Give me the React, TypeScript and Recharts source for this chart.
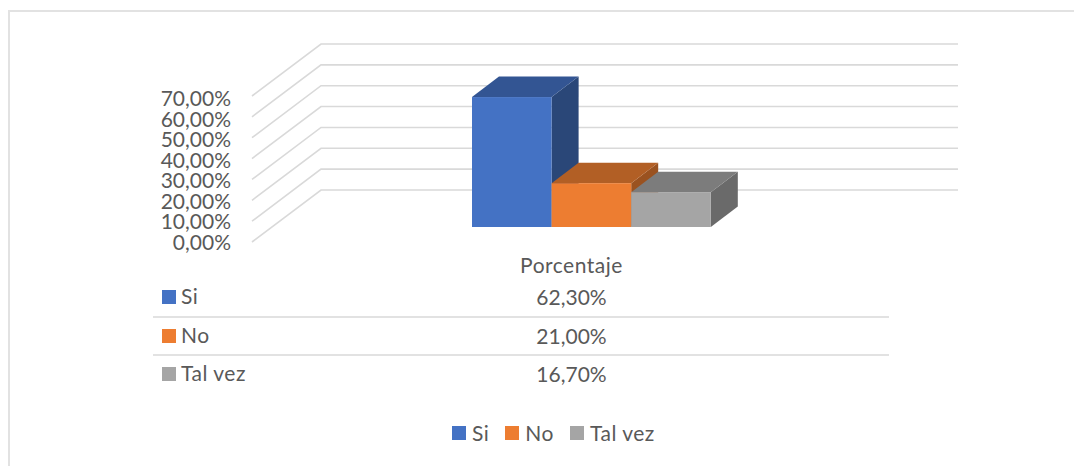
import { BarChart, Bar, XAxis, YAxis, CartesianGrid, Legend } from 'recharts';

const CATEGORIES = ['Porcentaje'];
const SERIES_NAMES = ['Si', 'No', 'Tal vez'];
const SERIES_VALUES = [62.3, 21.0, 16.7];
const Y_TICKS = [0, 10, 20, 30, 40, 50, 60, 70];

const FILLS = ['#4472C4', '#ED7D31', '#A5A5A5'];
const TOPS = ['#335593', '#B25F25', '#7C7C7C'];
const SIDES = ['#2A4778', '#9A5220', '#6A6A6A'];

const FONT = 'Lato, "Open Sans", sans-serif';
const TEXT = '#595959';
const LINE = '#D9D9D9';
const FONT_SIZE = 21;
const LABEL_SPACING = 0.5;

// 3D projection, relative to the plane the bars stand on
const DEPTH_X = 27;
const DEPTH_Y = 20.5;

const data = CATEGORIES.map((name) => {
  const row: Record<string, string | number> = { name };
  SERIES_NAMES.forEach((s, i) => {
    row[s] = SERIES_VALUES[i];
  });
  return row;
});

const fmt = (v: number) => v.toFixed(2).replace('.', ',') + '%';

function Box3D({ x, y, width, height, index }: any) {
  const i = index;
  const r = x + width;
  const b = y + height;
  return (
    <g>
      <polygon
        points={`${r},${y} ${r + DEPTH_X},${y - DEPTH_Y} ${r + DEPTH_X},${b - DEPTH_Y} ${r},${b}`}
        fill={SIDES[i]}
      />
      <polygon
        points={`${x},${y} ${x + DEPTH_X},${y - DEPTH_Y} ${r + DEPTH_X},${y - DEPTH_Y} ${r},${y}`}
        fill={TOPS[i]}
      />
      <rect x={x} y={y} width={width} height={height} fill={FILLS[i]} />
    </g>
  );
}

// floor diagonal + back wall line for each value tick
function GridLine({ x1, y1 }: any) {
  const frontX = x1 - 22;
  const backX = x1 + 47;
  const d = `M${frontX},${y1 + 15} L${backX},${y1 - 37} L${x1 + 684},${y1 - 37}`;
  return <path d={d} fill="none" stroke={LINE} strokeWidth={1.6} />;
}

// labels sit on the front edge, which is a bit shorter than the back wall
function ValueTick({ y, payload }: any) {
  return (
    <text x={231} y={y + 23 + payload.value * 0.029} textAnchor="end" fill={TEXT} fontFamily={FONT} fontSize={FONT_SIZE}>
      {fmt(payload.value)}
    </text>
  );
}

// category label plus the data table under the plot
function TableTick({ x, payload }: any) {
  const cx = x - 20;
  const rowY = [297, 336, 374];
  return (
    <g fontFamily={FONT} fontSize={FONT_SIZE} fill={TEXT}>
      <text x={cx} y={273} textAnchor="middle" letterSpacing={LABEL_SPACING}>
        {payload.value}
      </text>
      {SERIES_NAMES.map((s, i) => (
        <g key={s}>
          <rect x={162} y={rowY[i] - 7} width={14} height={14} fill={FILLS[i]} />
          <text x={181} y={rowY[i] + 7} letterSpacing={LABEL_SPACING}>
            {s}
          </text>
          <text x={cx} y={rowY[i] + 8} textAnchor="middle">
            {fmt(SERIES_VALUES[i])}
          </text>
        </g>
      ))}
      <line x1={153} x2={889} y1={317} y2={317} stroke={LINE} strokeWidth={1.6} />
      <line x1={153} x2={889} y1={355} y2={355} stroke={LINE} strokeWidth={1.6} />
    </g>
  );
}

function LegendRow({ payload }: any) {
  return (
    <div
      style={{
        display: 'flex',
        fontFamily: FONT,
        fontSize: FONT_SIZE,
        letterSpacing: LABEL_SPACING,
        color: TEXT,
        lineHeight: '24px',
      }}
    >
      {payload.map((p: any) => (
        <div key={p.value} style={{ display: 'flex', alignItems: 'center', marginRight: 16 }}>
          <span style={{ width: 14, height: 14, background: p.color, marginRight: 6 }} />
          {p.value}
        </div>
      ))}
    </div>
  );
}

export default function App() {
  return (
    <div style={{ position: 'absolute', left: 0, top: 0, width: 1074, height: 466, background: '#fff', overflow: 'hidden' }}>
      <div
        style={{
          position: 'absolute',
          left: 8,
          top: 10,
          width: 1100,
          height: 470,
          border: '2px solid #E2E2E2',
        }}
      />
      <BarChart
        width={1074}
        height={466}
        data={data}
        barGap={0}
        barSize={79.6}
        margin={{ top: 81, right: 165, bottom: 214, left: 273 }}
      >
        <CartesianGrid vertical={false} horizontal={(p: any) => <GridLine key={p.key} {...p} />} />
        <XAxis
          dataKey="name"
          height={1}
          axisLine={false}
          tickLine={false}
          tick={<TableTick />}
          interval={0}
        />
        <YAxis
          width={1}
          domain={[0, 70]}
          ticks={Y_TICKS}
          interval={0}
          axisLine={false}
          tickLine={false}
          tick={<ValueTick />}
        />
        {SERIES_NAMES.map((s, i) => (
          <Bar key={s} dataKey={s} name={s} fill={FILLS[i]} isAnimationActive={false} shape={(p: any) => <Box3D {...p} index={i} />} />
        ))}
        <Legend itemSorter={null} content={<LegendRow />} wrapperStyle={{ left: 452, top: 421, width: 300, height: 24 }} />
      </BarChart>
    </div>
  );
}
